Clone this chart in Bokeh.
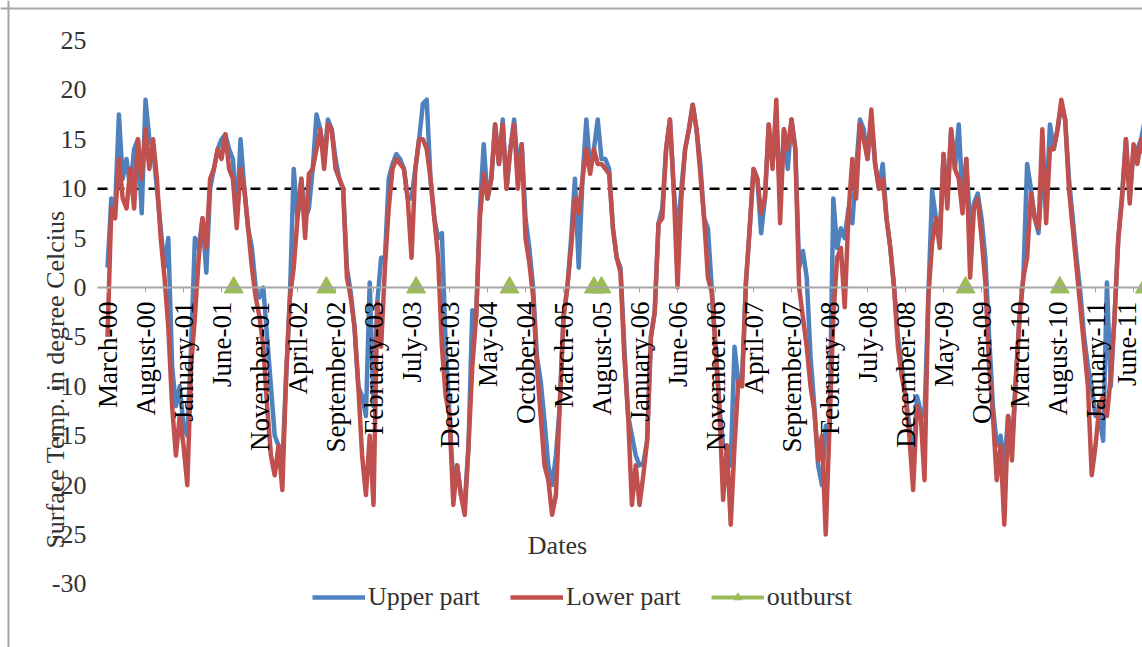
import math
import numpy as np
from bokeh.plotting import figure
from bokeh.models import Range1d, FixedTicker, Span, Label, Legend, LegendItem
from bokeh.embed import file_html
from bokeh.resources import INLINE

# ---- x-axis tick labels (every 5 months from March 2000) ----
tick_labels = ["March-00", "August-00", "January-01", "June-01", "November-01",
               "April-02", "September-02", "February-03", "July-03", "December-03",
               "May-04", "October-04", "March-05", "August-05", "January-06",
               "June-06", "November-06", "April-07", "September-07", "February-08",
               "July-08", "December-08", "May-09", "October-09", "March-10",
               "August-10", "January-11", "June-11"]
tick_months = [5 * i for i in range(len(tick_labels))]
y_ticks = [-30, -25, -20, -15, -10, -5, 0, 5, 10, 15, 20, 25]
threshold = 10

# ---- Lower part (half-monthly values, deg C), by year ----
lower_2000 = [-5, 8, 7, 13, 9, 8, 12, 8, 15, 11, 16, 12, 15, 11, 5, 1, -4, -12, -17, -13]
lower_2001 = [-16, -20, -8, -3, 3, 7, 4, 11, 12, 14, 13, 15.5, 12, 11, 6, 12, 10, 6, 2, -1, -3, -6, -12, -17]
lower_2002 = [-19, -16, -20.5, -9, -1, 2, 7, 11, 5, 11.5, 12, 14, 16, 12, 16.5, 16, 12, 11, 10, 1, -1, -4, -10, -17]
lower_2003 = [-21, -15, -22, -1.5, -6, 2, 8, 12, 13, 12.5, 12, 9, 3, 12, 15, 15, 14, 11, 7, 3, -6, -11, -13, -22]
lower_2004 = [-18, -21, -23, -16, -8, -3, 7, 11.5, 9, 11, 16.5, 12.5, 16.5, 10, 14, 16.5, 10, 14.5, 5, 2.5, -1, -8, -13, -18]
lower_2005 = [-19.5, -23, -21, -12, -3, 0, 4, 9, 7.5, 11, 14, 11.5, 14, 12.5, 12.5, 12, 11.5, 6, 3, 1.5, -7, -13, -22, -18]
lower_2006 = [-22, -19, -15.5, -5, -2.5, 6.5, 7, 14, 17, 10, 0, 9, 14, 16, 18.5, 16, 11.5, 7, 1, -0.5, -6, -12, -21.5, -16]
lower_2007 = [-24, -16, -9.5, -10, 0.5, 6, 12, 11, 7.5, 9, 16.5, 12, 19, 6.5, 16, 14, 17, 14, 0, -3, -6, -10, -12.5, -17.5]
lower_2008 = [-15, -25, -14, -3, 3, 4, -2, 7.5, 13, 9, 16.5, 15, 13, 18, 12.5, 10, 11, 7, 4, 0, -6, -9, -11, -15]
lower_2009 = [-20.5, -12, -13, -19.5, -1, 4.5, 7, 4, 13.5, 8, 16, 12, 11, 7.5, 13, 1, 8, 9, 5, 0.5, -8, -13, -19.5, -16]
lower_2010 = [-24, -13, -17.5, -9.5, -3, 1, 3, 9.5, 7, 6, 16, 6.5, 14, 14, 16, 19, 17, 10, 6, 2, -2, -6, -10, -19]
lower_2011 = [-16, -12, -11, -13, -9, -3, 5, 9, 15, 8.5, 14.5, 12.5, 15, 13]

# ---- Upper part (half-monthly values, deg C), by year ----
upper_2000 = [2, 9, 8, 17.5, 11, 13, 10, 14, 15, 7.5, 19, 15, 14, 10, 6, 2, 5, -8, -12, -10]
upper_2001 = [-14, -15, -6, 5, 4, 7, 1.5, 10, 12, 14, 15, 15.5, 14, 13, 7, 15, 10, 6, 4, 0, -1, 0, -5, -10]
upper_2002 = [-15, -16, -18, -9, -1, 12, 7, 11, 7, 8, 12, 17.5, 16, 13, 17, 16, 13, 11, 10, 2, -0.5, -4, -10, -11]
upper_2003 = [-13, 0.5, -12, -1.5, 3, 3, 11, 12.5, 13.5, 13, 12, 9, 9, 12, 15, 18.6, 19, 11, 7, 5, 5.5, -6, -13, -20]
upper_2004 = [-18, -21, -22, -16, -2.3, -3, 8, 14.5, 9, 11, 16.5, 12.5, 17, 10, 14, 17, 12, 14.5, 7, 4, 0, -7, -9.5, -13.5]
upper_2005 = [-18, -20, -17, -12, -3, 0, 5, 11, 2, 11, 17, 12, 14, 17, 13, 13, 12, 6, 3, 2, -6, -13, -15, -17]
upper_2006 = [-18, -17.8, -15.5, -5, -2.5, 6.5, 8, 14, 17, 10, 5, 10, 14, 16, 18.5, 16, 12.5, 7, 6, 0, -6, -12, -16, -16]
upper_2007 = [-18, -6, -9.5, -9, 0.5, 6, 12, 11, 5.5, 9, 16.5, 12.5, 17, 9, 16, 12, 17, 14, 2, 3.7, 1, -7, -12, -18]
upper_2008 = [-20, -14, -14, 9, 4, 6, 5, 8, 6.5, 12, 17, 16, 13, 17, 12.5, 10, 12.5, 7, 4, 0, -5, -8, -11, -14]
upper_2009 = [-18, -11, -12.5, -13, -1, 9.8, 7, 5, 13.5, 9, 16, 12, 16.5, 9, 13, 6, 8.5, 9.5, 7, 3, -5, -12, -16, -15]
upper_2010 = [-18, -13, -16, -9.5, -3, 1, 12.5, 10, 7, 5.5, 12, 8, 16.5, 14, 16, 18.5, 17, 11, 7, 3, -0.5, -5, -8, -10]
upper_2011 = [-13, -13, -15.5, 0.5, -10, -3, 5, 9.5, 15, 9, 14, 14, 15, 17]

# ---- outburst events (months after March 2000), drawn at 0 deg ----
outburst_month = [16.6, 28.8, 40.6, 52.9, 64.0, 65.0, 112.9, 125.3, 136.5]
outburst_value = [0, 0, 0, 0, 0, 0, 0, 0, 0]

lower_years = [lower_2000, lower_2001, lower_2002, lower_2003, lower_2004, lower_2005,
               lower_2006, lower_2007, lower_2008, lower_2009, lower_2010, lower_2011]
upper_years = [upper_2000, upper_2001, upper_2002, upper_2003, upper_2004, upper_2005,
               upper_2006, upper_2007, upper_2008, upper_2009, upper_2010, upper_2011]
for a, b in zip(lower_years, upper_years):
    assert len(a) == len(b)
lower = [v for yr in lower_years for v in yr]
upper = [v for yr in upper_years for v in yr]
months = np.arange(len(lower)) * 0.5  # half-monthly time grid from March 2000

# outburst series as a line with gaps (like a spreadsheet line series): only markers show
ob_x, ob_y = [], []
for m, v in zip(outburst_month, outburst_value):
    ob_x += [m, np.nan]
    ob_y += [v, np.nan]

BLUE = "#4F81BD"
RED = "#C0504D"
GREEN = "#9BBB59"
GRAY = "#A6A6A6"
FONT = "Liberation Serif"

# The frame fills the whole canvas; the plot area starts at x = AREA_X0
X_START, X_END = -14.08, 136.18
Y_START, Y_END = -36.43, 29.04
AREA_X0 = -1.316

p = figure(width=1142, height=647, output_backend="svg", toolbar_location=None,
           x_range=Range1d(X_START, X_END), y_range=Range1d(Y_START, Y_END),
           min_border_left=0, min_border_right=0, min_border_top=0, min_border_bottom=0)
p.outline_line_color = None
p.xgrid.visible = False
p.ygrid.visible = False
p.background_fill_color = "white"
p.border_fill_color = "white"

# chart-area border (top and left)
p.add_layout(Span(location=8, location_units="screen", dimension="height",
                  line_color=GRAY, line_width=2))
p.add_layout(Span(location=639, location_units="screen", dimension="width",
                  line_color=GRAY, line_width=2))

# x axis crossing at 0
xa = p.xaxis[0]
xa.fixed_location = 0
xa.bounds = (AREA_X0, X_END)
xa.ticker = FixedTicker(ticks=tick_months)
xa.major_label_overrides = {m: lab for m, lab in zip(tick_months, tick_labels)}
xa.major_label_orientation = math.pi / 2
xa.major_label_text_font = FONT
xa.major_label_text_font_size = "27px"
xa.major_label_text_color = "black"
xa.major_label_standoff = 9
xa.axis_line_color = GRAY
xa.axis_line_width = 2
xa.major_tick_line_color = GRAY
xa.major_tick_out = 5
xa.major_tick_in = 0
xa.minor_tick_line_color = None

ya = p.yaxis[0]
ya.fixed_location = AREA_X0
ya.ticker = FixedTicker(ticks=y_ticks)
ya.major_label_overrides = {t: str(t) for t in y_ticks}
ya.axis_line_color = None
ya.major_tick_line_color = None
ya.major_tick_out = 0
ya.major_tick_in = 0
ya.minor_tick_line_color = None
ya.major_label_text_font = FONT
ya.major_label_text_font_size = "26px"
ya.major_label_text_color = "#333333"
ya.major_label_standoff = 11

# threshold line at 10 deg C across the plot area
p.segment(x0=[AREA_X0], y0=[threshold], x1=[X_END], y1=[threshold],
          line_color="black", line_width=2.5, line_dash="10 7")

r_up = p.line(months, upper, line_color=BLUE, line_width=4.5, line_join="round")
r_lo = p.line(months, lower, line_color=RED, line_width=4.5, line_join="round")
r_ob_line = p.line(ob_x, ob_y, line_color=GREEN, line_width=4)
r_ob = p.scatter(outburst_month, outburst_value, marker="triangle", size=19,
                 fill_color=GREEN, line_color=GREEN)

legend = Legend(items=[LegendItem(label="Upper part", renderers=[r_up]),
                       LegendItem(label="Lower part", renderers=[r_lo]),
                       LegendItem(label="outburst", renderers=[r_ob_line, r_ob])],
                orientation="horizontal", location=(312, 35),
                label_text_font=FONT, label_text_font_size="26px", label_text_color="#333333",
                glyph_width=53, glyph_height=20, label_standoff=3, spacing=30,
                padding=0, margin=0, border_line_color=None, background_fill_alpha=0)
p.add_layout(legend)

p.add_layout(Label(x=59.2, y=-26.1, text="Dates", text_align="center", text_baseline="middle",
                   text_font=FONT, text_font_size="26px", text_color="#333333"))
# y-axis title (screen pixels relative to the frame's bottom-left)
p.add_layout(Label(x=55, y=268, x_units="screen", y_units="screen",
                   text="Surface Temp. in degree Celcius", angle=math.pi / 2,
                   text_align="center", text_baseline="middle",
                   text_font=FONT, text_font_size="26px", text_color="#333333"))

open("out.html", "w").write(file_html(p, INLINE))
